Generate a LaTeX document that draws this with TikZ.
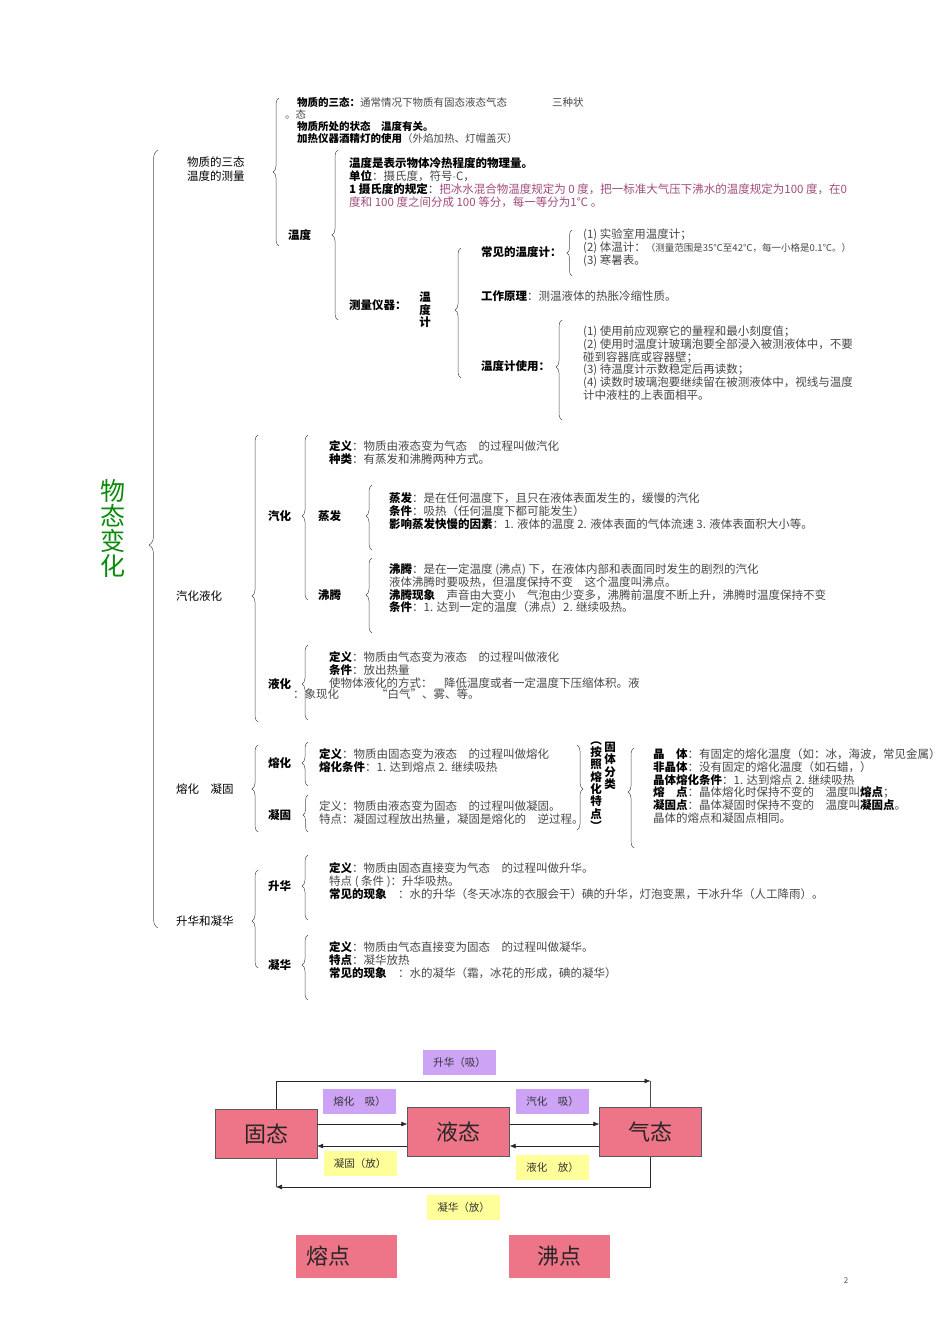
\documentclass[tikz,border=0pt]{standalone}
\usepackage{fontspec}
\setmainfont{Noto Sans CJK SC}
\usetikzlibrary{decorations.pathreplacing,arrows.meta}
\definecolor{bodygray}{HTML}{474747}
\definecolor{rulepurple}{HTML}{A04A7C}
\definecolor{titlegreen}{HTML}{0A8A0A}
\definecolor{statepink}{HTML}{EE7588}
\definecolor{absorbviolet}{HTML}{CCA3F5}
\definecolor{releaseyellow}{HTML}{FFFF99}
\newcommand\kw[1]{{\bfseries\color{black}#1}}

\begin{document}
\begin{tikzpicture}[x=1pt, y=-1pt,
  every node/.style={inner sep=0pt, font=\fontsize{11.5}{12.8}\selectfont, text=bodygray},
  txt/.style={anchor=north west, align=left},
  lab/.style={anchor=west, font=\fontsize{11.5}{12.8}\selectfont\bfseries, text=black},
  lone/.style={anchor=west, font=\fontsize{11.5}{14}\selectfont, text=black},
  vert/.style={align=center, font=\fontsize{11.5}{12.3}\selectfont\bfseries, text=black},
  small/.style={font=\fontsize{10.5}{12}\selectfont},
  br/.style={decorate, decoration={brace, amplitude=#1}, draw=black!70, line width=0.5pt},
  state/.style={draw=black!65, fill=statepink, minimum width=102pt, minimum height=49pt,
    font=\fontsize{22}{22}\selectfont, text=black!85},
  point/.style={fill=statepink, minimum width=101pt, minimum height=43pt,
    font=\fontsize{22}{22}\selectfont, text=black!85},
  tag/.style={minimum width=73pt, minimum height=25pt, font=\fontsize{10.5}{12}\selectfont, text=black!80},
  arr/.style={-{Latex[length=6pt,width=5pt]}, draw=black!85, line width=0.6pt},
  link/.style={draw=black!70, line width=0.6pt}]
\useasboundingbox (0,0) rectangle (950,1344);

% title and main brace
\node[align=center, font=\fontsize{25}{25}\selectfont, text=titlegreen] (title) at (113,528) {物\\态\\变\\化};
\foreach \bx/\btop/\btip/\bbot/\bamp in {158/150/545/928/9, 279/98/172/246/6, 338/150/235/320/6,
    461/248/310/378/6, 572/230/253/276/5, 562/320/367/420/6,
    258/435/596/722/6, 308/435/516/600/6, 372/485/516/550/6, 372/558/595/633/6, 308/645/684/720/6,
    258/745/789/832/6, 308/742/763/786/6, 308/795/815/832/5, 634/748/792/848/6,
    258/870/921/968/6, 308/855/886/920/6, 308/935/965/1000/6}{
  \pgfmathsetmacro\basp{(\bbot-\btip)/(\bbot-\btop)}
  \draw[br=\bamp pt, decoration={aspect=\basp}] (\bx,\bbot) -- (\bx,\btop);
}
\draw[br=6pt, decoration={aspect=0.518}] (577,745) -- (577,830);

% level one
\node[lone, anchor=north west, align=left] (sanTaiL1) at (187,157) {物质的三态\\温度的测量};
\node[lone] (qiYeL1) at (176,596) {汽化液化};
\node[lone] (rongNingL1) at (176,789) {熔化\quad 凝固};
\node[lone] (shengNingL1) at (176,921) {升华和凝华};

% three states, temperature
\node[txt, small] (sanTai) at (297,97) {\kw{物质的三态：}通常情况下物质有固态液态气态};
\node[anchor=west, small] (sanZhong) at (552,102) {三种状};
\node[anchor=west, small] (taiTail) at (285,114) {。态};
\node[txt, small] (zhuangTai) at (297,121) {\kw{物质所处的状态\quad 温度有关。}\\\kw{加热仪器酒精灯的使用}（外焰加热、灯帽盖灭）};
\node[lab] (wenDu) at (288,235) {温度};
\node[txt] (wenDuDef) at (349,157.5) {\kw{温度是表示物体冷热程度的物理量。}\\
  \kw{单位}：摄氏度，符号$\cdot$C，\\
  \kw{1 摄氏度的规定}：{\color{rulepurple}把冰水混合物温度规定为 0 度，把一标准大气压下沸水的温度规定为100 度，在0}\\
  {\color{rulepurple}度和 100 度之间分成 100 等分，每一等分为1℃ 。}};
\node[lab] (ceLiang) at (349,305) {测量仪器：};
\node[vert] (wenDuJi) at (425,310) {温\\度\\计};
\node[lab] (changJian) at (481,252) {常见的温度计：};
\node[txt] (changJianList) at (583,228.5) {(1) 实验室用温度计；\\
  (2) 体温计：{\fontsize{9.5}{12.8}\selectfont（测量范围是35℃至42℃，每一小格是0.1℃。）}\\(3) 寒暑表。};
\node[anchor=west] (gongZuo) at (481,296) {\kw{工作原理}：测温液体的热胀冷缩性质。};
\node[lab] (shiYong) at (481,366) {温度计使用：};
\node[txt] (shiYongList) at (583,325.5) {(1) 使用前应观察它的量程和最小刻度值；\\
  (2) 使用时温度计玻璃泡要全部浸入被测液体中，不要\\碰到容器底或容器壁；\\
  (3) 待温度计示数稳定后再读数；\\
  (4) 读数时玻璃泡要继续留在被测液体中，视线与温度\\计中液柱的上表面相平。};

% vaporization and liquefaction
\node[lab] (qiHua) at (268,516) {汽化};
\node[txt] (qiHuaDef) at (329,440.5) {\kw{定义}：物质由液态变为气态\quad 的过程叫做汽化\\\kw{种类}：有蒸发和沸腾两种方式。};
\node[lab] (zhengFa) at (318,516) {蒸发};
\node[txt] (zhengFaList) at (389,492.5) {\kw{蒸发}：是在任何温度下，且只在液体表面发生的，缓慢的汽化\\
  \kw{条件}：吸热（任何温度下都可能发生）\\
  \kw{影响蒸发快慢的因素}：1. 液体的温度 2. 液体表面的气体流速 3. 液体表面积大小等。};
\node[lab] (feiTeng) at (318,595) {沸腾};
\node[txt] (feiTengList) at (389,563.5) {\kw{沸腾}：是在一定温度 (沸点) 下，在液体内部和表面同时发生的剧烈的汽化\\
  液体沸腾时要吸热，但温度保持不变\quad 这个温度叫沸点。\\
  \kw{沸腾现象}\quad 声音由大变小\quad 气泡由少变多，沸腾前温度不断上升，沸腾时温度保持不变\\
  \kw{条件}：1. 达到一定的温度（沸点）2. 继续吸热。};
\node[lab] (yeHua) at (268,684) {液化};
\node[txt] (yeHuaDef) at (329,651.5) {\kw{定义}：物质由气态变为液态\quad 的过程叫做液化\\
  \kw{条件}：放出热量\\使物体液化的方式：\quad 降低温度或者一定温度下压缩体积。液};
\node[anchor=west] (yeHuaTail) at (293,694) {：象现化\hspace{3.2em}“白气”、雾、等。};

% melting and solidification
\node[lab] (rongHua) at (268,763) {熔化};
\node[txt] (rongHuaDef) at (319,748.5) {\kw{定义}：物质由固态变为液态\quad 的过程叫做熔化\\\kw{熔化条件}：1. 达到熔点 2. 继续吸热};
\node[lab] (ningGu) at (268,815) {凝固};
\node[txt] (ningGuDef) at (319,800.5) {定义：物质由液态变为固态\quad 的过程叫做凝固。\\特点：凝固过程放出热量，凝固是熔化的\quad 逆过程。};
\node[vert] (anZhao) at (596,786) {︵\\按\\照\\熔\\化\\特\\点\\︶};
\node[vert] (fenLei) at (610,766) {固\\体\\分\\类};
\node[txt] (jingTiList) at (653,748.5) {\kw{晶\quad 体}：有固定的熔化温度（如：冰，海波，常见金属）\\
  \kw{非晶体}：没有固定的熔化温度（如石蜡，）\\
  \kw{晶体熔化条件}：1. 达到熔点 2. 继续吸热\\
  \kw{熔\quad 点}：晶体熔化时保持不变的\quad 温度叫\kw{熔点}；\\
  \kw{凝固点}：晶体凝固时保持不变的\quad 温度叫\kw{凝固点}。\\
  晶体的熔点和凝固点相同。};

% sublimation and deposition
\node[lab] (shengHua) at (268,886) {升华};
\node[txt] (shengHuaDef) at (329,862.5) {\kw{定义}：物质由固态直接变为气态\quad 的过程叫做升华。\\特点 ( 条件 )：升华吸热。\\
  \kw{常见的现象}\quad ：水的升华（冬天冰冻的衣服会干）碘的升华，灯泡变黑，干冰升华（人工降雨）。};
\node[lab] (ningHua) at (268,965) {凝华};
\node[txt] (ningHuaDef) at (329,941.5) {\kw{定义}：物质由气态直接变为固态\quad 的过程叫做凝华。\\\kw{特点}：凝华放热\\
  \kw{常见的现象}\quad ：水的凝华（霜，冰花的形成，碘的凝华）};

% state diagram
\node[state] (gu) at (266,1134) {固态};
\node[state] (ye) at (458.5,1132) {液态};
\node[state] (qi) at (650.5,1132) {气态};
\coordinate (rowA) at (0,1124);
\coordinate (rowB) at (0,1146);
\coordinate (shCorner) at (650.5,1081);
\coordinate (nhCorner) at (276,1187);
\draw[arr] (gu.east |- rowA) -- (ye.west |- rowA);
\draw[arr] (ye.east |- rowA) -- (qi.west |- rowA);
\draw[arr] (qi.west |- rowB) -- (ye.east |- rowB);
\draw[arr] (ye.west |- rowB) -- (gu.east |- rowB);
\draw[arr] ([xshift=10pt]gu.north) |- (shCorner);
\draw[link] (qi.north) -- (shCorner);
\draw[arr] (qi.south) |- (nhCorner);
\draw[link] ([xshift=10pt]gu.south) -- (nhCorner);
\node[tag, fill=absorbviolet] (shengHuaTag) at (459.5,1062.5) {升华（吸）};
\node[tag, fill=absorbviolet] (rongHuaTag) at (359.5,1101.5) {熔化\quad 吸）};
\node[tag, fill=absorbviolet] (qiHuaTag) at (552.5,1101.5) {汽化\quad 吸）};
\node[tag, fill=releaseyellow] (ningGuTag) at (360,1163.5) {凝固（放）};
\node[tag, fill=releaseyellow] (yeHuaTag) at (552.5,1167) {液化\quad 放）};
\node[tag, fill=releaseyellow] (ningHuaTag) at (463.5,1207.5) {凝华（放）};
\node[point] (rongDian) at (346.5,1256.5) {熔点\kern37pt};
\node[point] (feiDian) at (559,1256.5) {沸点};
\node[font=\fontsize{8}{8}\selectfont, text=black!70] (pageNum) at (846,1281) {2};
\end{tikzpicture}
\end{document}
